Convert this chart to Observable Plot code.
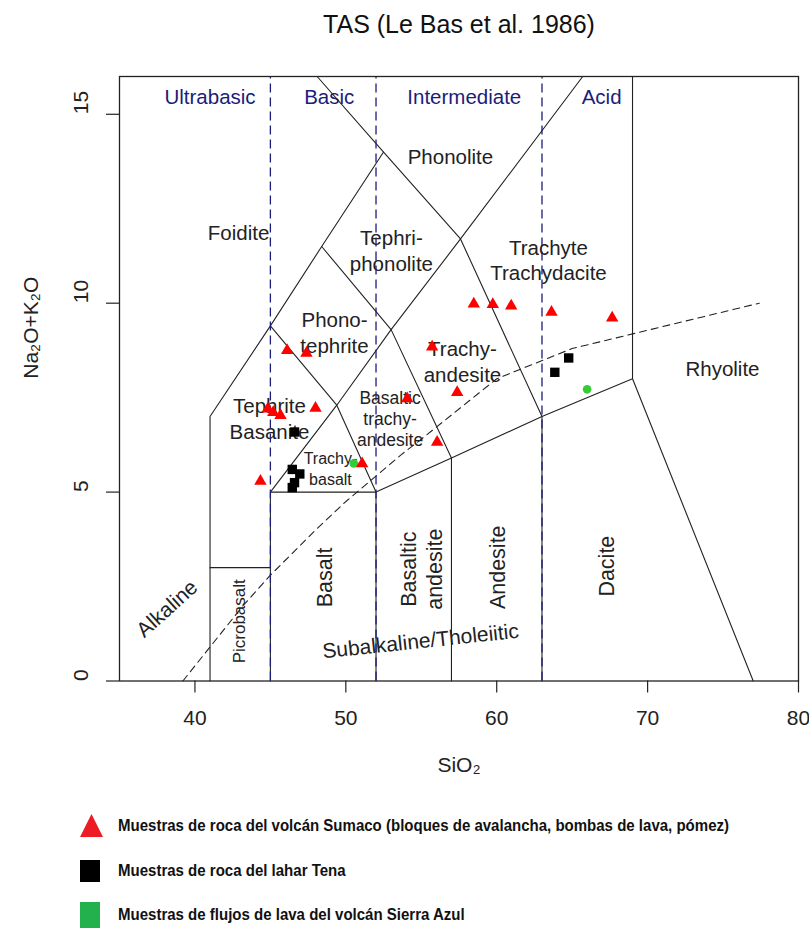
<!DOCTYPE html>
<html>
<head>
<meta charset="utf-8">
<script src="https://cdn.jsdelivr.net/npm/d3@7"></script>
<script src="https://cdn.jsdelivr.net/npm/@observablehq/plot@0.6"></script>
<style>
  body { margin: 0; background: #fff; }
  #wrap { position: relative; width: 809px; height: 928px; overflow: hidden; background: #fff; }
  #chart svg { display: block; }
  .legend-row { position: absolute; left: 0; height: 26px; width: 809px; }
  .legend-row svg { position: absolute; left: 80px; top: 0; }
  .legend-row span {
    position: absolute; left: 118px; top: 50%; display: inline-block;
    transform-origin: 0 50%;
    font-family: "Liberation Sans", Arial, sans-serif;
    font-weight: bold; font-size: 16px; line-height: 1; color: #111; white-space: nowrap;
  }
</style>
</head>
<body>
<div id="wrap">
  <div id="chart"></div>
  <div id="legend"></div>
</div>
<script>
// Axis ticks
const xTicks = [40, 50, 60, 70, 80];
const yTicks = [0, 5, 10, 15];

// TAS field boundaries (SiO2, Na2O+K2O) as polylines
const fieldBoundaries = [
  [[41, 0], [41, 7], [45, 9.4], [48.4, 11.5], [52.5, 14], [48.1, 16]],
  [[41, 3], [45, 3]],
  [[45, 0], [45, 5], [49.4, 7.3], [53, 9.3], [57.6, 11.7], [65.7, 16]],
  [[45, 5], [52, 5], [57, 5.9], [63, 7], [69, 8]],
  [[52, 0], [52, 5], [49.4, 7.3], [45, 9.4]],
  [[48.4, 11.5], [53, 9.3], [57, 5.9], [57, 0]],
  [[52.5, 14], [57.6, 11.7], [63, 7], [63, 0]],
  [[69, 16], [69, 8], [77, 0]]
];

// Silica-saturation divisions
const divisionSiO2 = [45, 52, 63];
const divisionNames = ["Ultrabasic", "Basic", "Intermediate", "Acid"];
const divisionNameX = [41.0, 48.9, 57.85, 66.95];
const divisionNameY = 15.44;

// Alkaline / subalkaline divide (Irvine & Baragar 1971)
const alkalineSiO2 = [39.2, 40, 43.2, 45, 48, 50, 53.7, 55, 60, 65, 77.4];
const alkalineAlk = [0, 0.4, 2, 2.8, 4, 4.75, 6, 6.4, 8, 8.8, 10];

// Rock field names
const fieldNames = ["Phonolite", "Foidite", "Tephri-\nphonolite", "Trachyte\nTrachydacite",
  "Phono-\ntephrite", "Trachy-\nandesite", "Rhyolite", "Tephrite\nBasanite"];
const fieldNameX = [56.93, 42.89, 53.02, 63.43, 49.25, 57.73, 74.96, 44.94];
const fieldNameY = [13.91, 11.9, 11.42, 11.16, 9.24, 8.47, 8.3, 6.96];

const smallFieldNames = ["Basaltic\ntrachy-\nandesite", "Trachy-\nbasalt"];
const smallFieldNameX = [52.93, 48.98];
const smallFieldNameY = [6.96, 5.64];

const uprightNames = ["Basalt", "Basaltic\nandesite", "Andesite", "Dacite"];
const uprightNameX = [48.52, 54.95, 60.03, 67.21];
const uprightNameY = [2.74, 2.96, 3.01, 3.04];

const picrobasaltName = ["Picrobasalt"];
const picrobasaltX = [42.97];
const picrobasaltY = [1.58];

const seriesNames = ["Alkaline", "Subalkaline/Tholeiitic"];
const seriesNameX = [38.16, 54.95];
const seriesNameY = [1.91, 1.05];

// Samples: Sumaco volcano rocks
const sumacoSiO2 = [46.11, 47.39, 47.99, 44.83, 45.19, 45.67, 44.34, 54.07, 51.08, 56.05,
  55.72, 57.38, 58.48, 59.74, 60.96, 63.63, 67.65];
const sumacoAlk = [8.75, 8.68, 7.22, 7.2, 7.11, 7.03, 5.29, 7.47, 5.75, 6.32,
  8.84, 7.64, 9.98, 9.97, 9.93, 9.76, 9.61];

// Samples: Tena lahar rocks
const tenaSiO2 = [46.6, 46.45, 46.95, 46.6, 46.45, 64.77, 63.85];
const tenaAlk = [6.59, 5.6, 5.48, 5.25, 5.12, 8.55, 8.17];

// Samples: Sierra Azul lava flows
const sierraSiO2 = [50.53, 65.99];
const sierraAlk = [5.76, 7.72];

const legendLabels = [
  "Muestras de roca del volcán Sumaco (bloques de avalancha, bombas de lava, pómez)",
  "Muestras de roca del lahar Tena",
  "Muestras de flujos de lava del volcán Sierra Azul"
];

const titleText = "TAS (Le Bas et al. 1986)";
const xLabel = "SiO\u2082";
const yLabel = "Na\u2082O+K\u2082O";

// Tables built from the arrays above
const boundaryRows = fieldBoundaries.flatMap((pts, id) => pts.map(([sio2, alkali]) => ({id, sio2, alkali})));
const alkalineRows = alkalineSiO2.map((sio2, i) => ({sio2, alkali: alkalineAlk[i]}));
const zip = (names, xs, ys) => names.map((text, i) => ({text, sio2: xs[i], alkali: ys[i]}));
const divisionRows = divisionNames.map((text, i) => ({text, sio2: divisionNameX[i], alkali: divisionNameY}));
const fieldRows = zip(fieldNames, fieldNameX, fieldNameY);
const smallRows = zip(smallFieldNames, smallFieldNameX, smallFieldNameY);
const uprightRows = zip(uprightNames, uprightNameX, uprightNameY);
const picroRows = zip(picrobasaltName, picrobasaltX, picrobasaltY);
const seriesRows = zip(seriesNames, seriesNameX, seriesNameY);
const pts = (xs, ys) => xs.map((sio2, i) => ({sio2, alkali: ys[i]}));
const sumaco = pts(sumacoSiO2, sumacoAlk);
const tena = pts(tenaSiO2, tenaAlk);
const sierra = pts(sierraSiO2, sierraAlk);

const ink = "#222";
const navy = "#1c1c7a";
const red = "#ff0000";
const green = "#33cc33";

const chart = Plot.plot({
  width: 809,
  height: 800,
  marginLeft: 119,
  marginRight: 11,
  marginTop: 76,
  marginBottom: 119.5,
  x: {domain: [35, 80]},
  y: {domain: [0, 16]},
  style: {fontFamily: "'Liberation Sans', Arial, sans-serif", color: ink, background: "white", overflow: "visible"},
  marks: [
    // field names
    Plot.text(fieldRows, {x: "sio2", y: "alkali", text: "text", fontSize: 20.5, lineHeight: 1.25, fill: ink}),
    Plot.text(smallRows.slice(0, 1), {x: "sio2", y: "alkali", text: "text", fontSize: 17.5, lineHeight: 1.2, fill: ink}),
    Plot.text(smallRows.slice(1), {x: "sio2", y: "alkali", text: "text", fontSize: 16, lineHeight: 1.3, fill: ink}),
    Plot.text(uprightRows, {x: "sio2", y: "alkali", text: "text", fontSize: 21.5, lineHeight: 1.2, rotate: -90, fill: ink}),
    Plot.text(picroRows, {x: "sio2", y: "alkali", text: "text", fontSize: 17, rotate: -90, fill: ink}),
    Plot.text(seriesRows.slice(0, 1), {x: "sio2", y: "alkali", text: "text", fontSize: 21, rotate: -42, fill: ink}),
    Plot.text(seriesRows.slice(1), {x: "sio2", y: "alkali", text: "text", fontSize: 21, rotate: -6, fill: ink}),
    Plot.text(divisionRows, {x: "sio2", y: "alkali", text: "text", fontSize: 20.5, fill: navy}),

    // field boundaries and the alkaline divide
    Plot.line(boundaryRows, {x: "sio2", y: "alkali", z: "id", stroke: ink, strokeWidth: 1.1}),
    Plot.line(alkalineRows, {x: "sio2", y: "alkali", stroke: ink, strokeWidth: 1.1, strokeDasharray: "7,5"}),
    Plot.ruleX(divisionSiO2, {y1: 0, y2: 16, stroke: navy, strokeWidth: 1.3, strokeDasharray: "9,5"}),

    // samples
    Plot.dot(sierra, {x: "sio2", y: "alkali", r: 4.3, fill: green, stroke: "none"}),
    Plot.dot(tena, {x: "sio2", y: "alkali", symbol: "square", r: 5.3, fill: "black", stroke: "none"}),
    Plot.dot(sumaco, {x: "sio2", y: "alkali", symbol: "triangle", r: 4.6, fill: red, stroke: "none"}),

    // axes
    Plot.frame({stroke: ink, strokeWidth: 1.3}),
    Plot.axisX({ticks: xTicks, tickSize: 12, tickFormat: () => "", label: null, stroke: ink, strokeWidth: 1.2}),
    Plot.axisY({ticks: yTicks, tickSize: 13, tickFormat: () => "", label: null, stroke: ink, strokeWidth: 1.2}),
    Plot.text(xTicks, {x: d => d, text: d => String(d), frameAnchor: "bottom", dy: 44, fontSize: 21, fill: ink}),
    Plot.text(yTicks, {y: d => d, text: d => String(d), frameAnchor: "left", dx: -38, rotate: -90, fontSize: 21, fill: ink}),
    Plot.text([xLabel], {text: d => d, frameAnchor: "bottom", dy: 91, fontSize: 21, fill: ink}),
    Plot.text([yLabel], {text: d => d, frameAnchor: "left", dx: -88, rotate: -90, fontSize: 21, fill: ink}),
    Plot.text([titleText], {text: d => d, frameAnchor: "top", dy: -61, fontSize: 25, fill: "#111"})
  ]
});
document.getElementById("chart").appendChild(chart);

// Legend below the plot, set in a condensed bold face
const legend = document.getElementById("legend");
const legendSymbols = [
  `<svg width="24" height="26"><polygon points="0,24 11.5,1 23,24" fill="#ed1c24"/></svg>`,
  `<svg width="24" height="26"><rect x="0" y="2" width="20" height="22" fill="#000"/></svg>`,
  `<svg width="24" height="26"><rect x="0" y="0" width="20" height="26" fill="#22b14c"/></svg>`
];
const legendTops = [813, 858, 902];
const spans = legendLabels.map((label, i) => {
  const row = document.createElement("div");
  row.className = "legend-row";
  row.style.top = legendTops[i] + "px";
  row.innerHTML = legendSymbols[i];
  const span = document.createElement("span");
  span.textContent = label;
  row.appendChild(span);
  legend.appendChild(row);
  return span;
});
// condense the face so the longest line spans 611px
const squeeze = 611 / spans[0].getBoundingClientRect().width;
spans.forEach(s => { s.style.transform = `translateY(-50%) scaleX(${squeeze})`; });
</script>
</body>
</html>
